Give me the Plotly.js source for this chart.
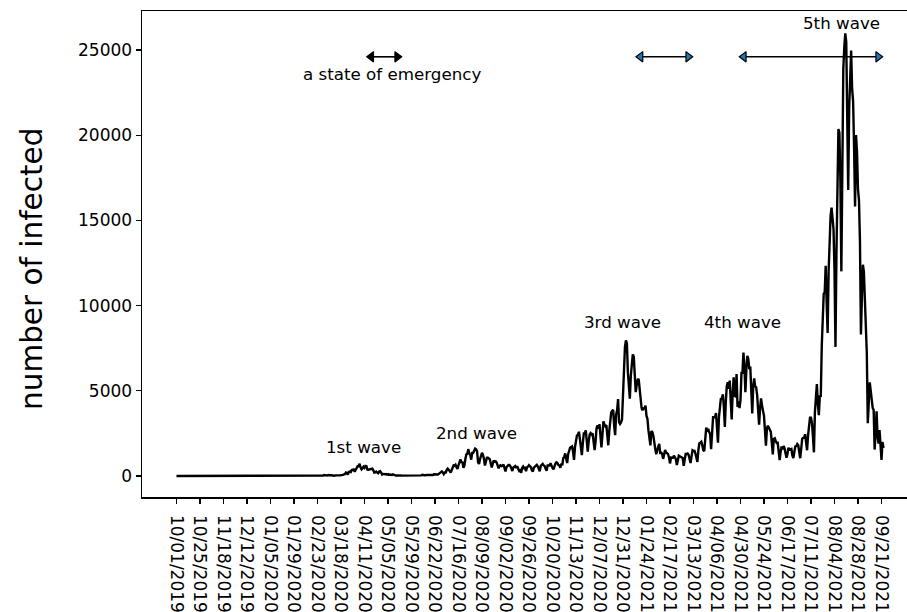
<!DOCTYPE html>
<html>
<head>
<meta charset="utf-8">
<script src="https://cdn.plot.ly/plotly-3.0.1.min.js"></script>
<style>
html, body { margin: 0; padding: 0; overflow: hidden; background: #fff; }
#chart { width: 940px; height: 612px; }
</style>
</head>
<body>
<div id="chart"></div>
<script>
// ---- data (daily number of infected, one value per day from the first tick) ----
const leadingZeros = [
  0,0,0,0,0,0,0,0,0,0,0,0,0,0,0,0,0,0,0,0,0,0,0,0,0,0,
  0,0,0,0,0,0,0,0,0,0,0,0,0,0,0,0,0,0,0,0,0,0,0,0,0,0,0,0,0,0,
  0,0,0,0,0,0,0,0,0,0,0,0,0,0,0,0,0,0,0,0,0,0,0,0,0,0,0,0,0,0,0
];
const jan2020 = [0,0,0,0,0,0,0,0,0,0,0,0,0,0,0,1,0,0,0,0,0,0,0,1,1,0,0,1,3,1,1];
const feb2020 = [1,0,0,0,2,2,0,0,0,0,1,1,4,8,7,4,6,6,6,10,17,8,13,12,14,21,22,12];
const mar2020 = [15,14,20,29,33,59,47,33,26,54,52,56,41,64,30,15,44,39,40,55,36,35,39,65,71,96,112,201,173,87,242];
const apr2020 = [266,235,351,367,383,252,351,515,576,579,714,507,390,457,549,482,585,568,373,371,389,437,440,436,346,201,208,261,202,163];
const may2020 = [263,285,203,87,123,96,104,114,84,108,62,87,54,59,99,61,30,30,30,39,25,25,27,21,21,24,37,40,35,48,40];
const jun2020 = [35,40,46,33,44,50,42,15,37,40,41,44,38,67,39,42,44,72,68,60,57,42,40,51,59,102,92,111,58,86];
const jul2020 = [127,188,251,274,206,109,206,208,355,430,373,256,200,336,458,622,594,660,509,419,631,795,981,779,839,481,598,983,1264,1300,1578];
const aug2020 = [1331,1241,958,1355,1362,1485,1605,1565,1442,817,700,985,1176,1360,1232,1013,619,865,1073,1078,1032,984,722,495,724,906,842,861,782,584,453];
const sep2020 = [595,633,581,598,669,510,265,509,601,648,647,579,435,299,495,548,587,479,583,424,292,330,195,468,556,453,480,283,516,546];
const oct2020 = [631,574,524,335,269,493,544,597,655,573,424,279,601,659,707,620,587,422,313,619,642,620,744,572,470,392,600,725,803,771,647];
const nov2020 = [617,488,722,620,1046,1120,1329,1012,760,1281,1546,1660,1706,1736,1438,949,1699,2201,2386,2424,2596,2168,1518,1228,1943,2504,2508,2684,2066,1437];
const dec2020 = [2030,2433,2518,2439,2508,2063,1513,2038,2806,2971,2782,3041,2397,1679,2400,3212,3041,2925,2992,2494,1803,2650,3271,3739,3831,3881,2947,2395,3605,3852,4515];
const jan2021 = [3159,3057,3139,3310,4913,6001,7570,7957,7799,6094,4876,4538,5870,6604,7133,7014,5759,4925,5320,5654,5707,5050,4714,3990,3856,3965,3956,4131,3534,3342,2673];
const feb2021 = [2324,1792,2631,2576,2366,1799,1570,1282,1568,1715,1881,1359,1363,1311,1005,1308,1529,1382,1310,1296,1090,738,1082,1101,1076,1191,1046,994];
const mar2021 = [640,1003,1194,1160,1120,1066,1053,592,1130,1290,1290,1323,1250,963,760,1135,1506,1469,1477,1310,1112,827,1512,1918,1955,2011,1799,1519,1466,2087,2843];
const apr2021 = [2599,2762,2579,2462,1574,2652,3452,3451,3459,3697,2776,1951,3452,4312,4574,4532,4799,4091,2880,4330,5281,5502,5110,5603,4610,3315,4853,5790,4694,4672];
const may2021 = [5984,4054,4384,3980,4457,6054,6056,7244,6481,4915,6241,7052,6874,6266,6419,5250,3677,5248,5726,5246,5206,4754,3974,3011,3958,4560,4132,3674,3528,2664,1787];
const jun2021 = [2786,2953,2835,2729,2588,1928,1266,2178,2212,2056,1938,1945,1391,937,1413,1736,1556,1758,1617,1302,1066,1307,1663,1542,1576,1585,1209,1051,1420,1734];
const jul2021 = [1753,1874,1804,1344,1042,1599,2187,2235,2245,2451,2018,1509,2386,3193,3418,3417,3104,2325,1390,3758,4951,5395,4225,3574,4684,4692,7629,9576,10693,10788,12341];
const aug2021 = [10169,8392,12017,14207,15263,15753,15112,14472,12076,7577,13044,18889,20366,20151,17463,12009,19959,23917,25156,25975,25485,22249,16783,21561,24312,24974,22737,22005,19294,15821,20006];
const sep2021 = [19000,16800,16200,13800,8300,10500,12400,12000,10400,8200,7200,3100,4500,5500,5000,4400,4000,3870,1550,2600,3800,2300,1900,2700,1500,950,2000,1640];

const tickLabels = ["10/01/2019","10/25/2019","11/18/2019","12/12/2019","01/05/2020","01/29/2020",
  "02/23/2020","03/18/2020","04/11/2020","05/05/2020","05/29/2020","06/22/2020","07/16/2020",
  "08/09/2020","09/02/2020","09/26/2020","10/20/2020","11/13/2020","12/07/2020","12/31/2020",
  "01/24/2021","02/17/2021","03/13/2021","04/06/2021","04/30/2021","05/24/2021","06/17/2021",
  "07/11/2021","08/04/2021","08/28/2021","09/21/2021"];
const tickStep = 24;
const yTicks = [0, 5000, 10000, 15000, 20000, 25000];

const waveLabels = ["1st wave","2nd wave","3rd wave","4th wave","5th wave"];
const waveX = [191, 306, 456, 578, 679];
const waveY = [1700, 2520, 9040, 9040, 26580];

const emergencyLabel = "a state of emergency";
const emergencyLabelX = 220;
const emergencyLabelY = 23590;
const emergencyStart = [194.3, 469.3, 574.8];
const emergencyEnd = [230.0, 527.2, 721.2];
const emergencyY = 24600;
const emergencyHeadColor = ["#000000", "#1f77b4", "#1f77b4"];

const yTitle = "number of infected";

// ---- build ----
const infected = [].concat(leadingZeros, jan2020, feb2020, mar2020, apr2020, may2020, jun2020,
  jul2020, aug2020, sep2020, oct2020, nov2020, dec2020, jan2021, feb2021, mar2021, apr2021,
  may2021, jun2021, jul2021, aug2021, sep2021);
const xIdx = infected.map((_, i) => i);

const W = 940, H = 612;
const margin = {l: 142, r: W - 919, t: 11, b: H - 497};
const xRange = [-35.2, 758.3];
const yRange = [-1232, 27289];
const plotW = W - margin.l - margin.r, plotH = H - margin.t - margin.b;
const pxPerX = plotW / (xRange[1] - xRange[0]);
const headHalfPx = 4.5;
const headOff = headHalfPx / pxPerX;

const FONT = "DejaVu Sans, Verdana, sans-serif";

const traces = [{
  x: xIdx, y: infected, type: "scatter", mode: "lines",
  line: {color: "#000000", width: 2.4}, hoverinfo: "skip", showlegend: false
}];

for (let k = 0; k < emergencyStart.length; k++) {
  traces.push({
    x: [emergencyStart[k] + headOff, emergencyEnd[k] - headOff],
    y: [emergencyY, emergencyY], type: "scatter", mode: "lines",
    line: {color: "#000000", width: 1.6}, showlegend: false, hoverinfo: "skip"
  });
  traces.push({
    x: [emergencyStart[k] + headOff, emergencyEnd[k] - headOff],
    y: [emergencyY, emergencyY], type: "scatter", mode: "markers",
    marker: {symbol: ["triangle-left", "triangle-right"], size: 9,
      color: emergencyHeadColor[k], line: {color: "#000000", width: 1.2}},
    showlegend: false, hoverinfo: "skip"
  });
}

const annotations = waveLabels.map((t, i) => ({
  x: waveX[i], y: waveY[i], xref: "x", yref: "y", text: t, showarrow: false,
  font: {family: FONT, size: 16.7, color: "#000"}, xanchor: "center", yanchor: "middle"
}));
annotations.push({
  x: emergencyLabelX, y: emergencyLabelY, xref: "x", yref: "y", text: emergencyLabel,
  showarrow: false, font: {family: FONT, size: 16.7, color: "#000"},
  xanchor: "center", yanchor: "middle"
});
// y-axis title placed as a rotated annotation (centre at ~x=32px, y=269px of the figure)
annotations.push({
  xref: "paper", yref: "paper",
  x: (32 - margin.l) / plotW, y: (margin.t + plotH - 269) / plotH,
  text: yTitle, textangle: -90, showarrow: false,
  font: {family: FONT, size: 29.5, color: "#000"}, xanchor: "center", yanchor: "middle"
});

const layout = {
  width: W, height: H, margin: margin,
  paper_bgcolor: "#ffffff", plot_bgcolor: "#ffffff",
  font: {family: FONT, color: "#000"},
  showlegend: false,
  xaxis: {
    range: xRange, showgrid: false, zeroline: false,
    showline: true, mirror: true, linecolor: "#000", linewidth: 1.5,
    ticks: "outside", ticklen: 5, tickwidth: 1.2, tickcolor: "#000",
    tickvals: tickLabels.map((_, i) => i * tickStep), ticktext: tickLabels,
    tickangle: 90, ticklabelstandoff: 8,
    tickfont: {family: FONT, size: 17, color: "#000"}
  },
  yaxis: {
    range: yRange, showgrid: false, zeroline: false,
    showline: true, mirror: true, linecolor: "#000", linewidth: 1.5,
    ticks: "outside", ticklen: 5, tickwidth: 1.2, tickcolor: "#000",
    tickvals: yTicks, ticktext: yTicks.map(String),
    tickfont: {family: FONT, size: 17, color: "#000"}
  },
  annotations: annotations
};

Plotly.newPlot("chart", traces, layout, {staticPlot: true, displayModeBar: false});
</script>
</body>
</html>
